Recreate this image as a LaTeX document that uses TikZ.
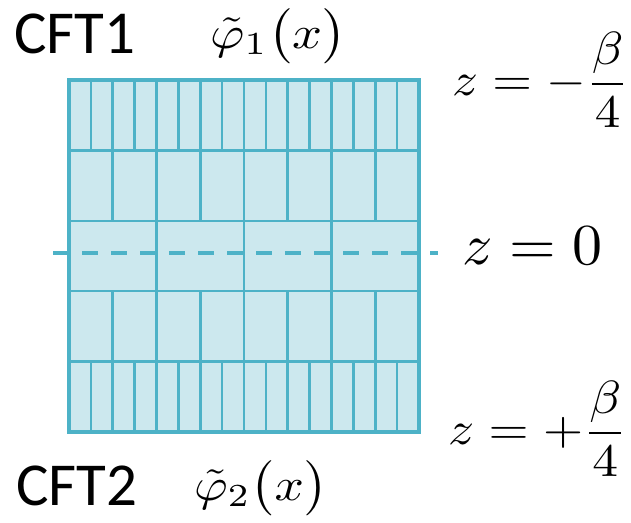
\documentclass[tikz,border=0pt]{standalone}
\usepackage{fontspec}
\newfontfamily\carl{Carlito}
\definecolor{gline}{RGB}{77,178,199}
\definecolor{gfill}{RGB}{204,232,238}
\tikzset{
  cftlabel/.style={anchor=base west,inner sep=0pt,font=\carl\fontsize{61}{70}\selectfont},
  mathlabel/.style={anchor=base west,inner sep=0pt},
  gridline/.style={draw=gline,line width=2.6pt},
  gridborder/.style={draw=gline,line width=3.4pt},
  midline/.style={draw=gline,line width=3.6pt,dash pattern=on 16pt off 13pt}
}
\begin{document}
\begin{tikzpicture}[x=1pt,y=-1pt]
\useasboundingbox (0,0) rectangle (631,522);
\fill[gfill] (69,80) rectangle (419,432);
\foreach \n/\ya/\yb in {16/80/150.5, 8/150.5/221, 4/221/291, 8/291/361.5, 16/361.5/432}{
  \pgfmathtruncatemacro\m{\n-1}
  \foreach \k in {1,...,\m}{
    \pgfmathsetmacro\xx{69+350*\k/\n}
    \draw[gridline] (\xx,\ya) -- (\xx,\yb);
  }
}
\foreach \y in {150.5,221,291,361.5}{
  \draw[gridline] (69,\y) -- (419,\y);
}
\draw[gridborder] (69,80) rectangle (419,432);
\coordinate (dl) at (53,253);
\coordinate (dr) at (438,253);
\draw[midline] (dl) -- (dr);
\node[cftlabel] (cft1) at (14,53) {CFT1};
\node[cftlabel] (cft2) at (16,505) {CFT2};
\node[mathlabel] (phi1) at (210,48) {\scalebox{5.25}[4.6]{$\tilde{\varphi}_1\bigl(x\bigr)$}};
\node[mathlabel] (phi2) at (194,500) {\scalebox{5.15}[4.6]{$\tilde{\varphi}_2\bigl(x\bigr)$}};
\node[mathlabel] (ztop) at (452,95.6) {\scalebox{5.1}[4.65]{$\displaystyle z=-\frac{\beta}{4}$}};
\node[mathlabel] (zmid) at (462,264) {\scalebox{6.0}[5.8]{$z=0$}};
\node[mathlabel] (zbot) at (448,444.6) {\scalebox{5.15}[4.65]{$\displaystyle z=+\frac{\beta}{4}$}};
\end{tikzpicture}
\end{document}
